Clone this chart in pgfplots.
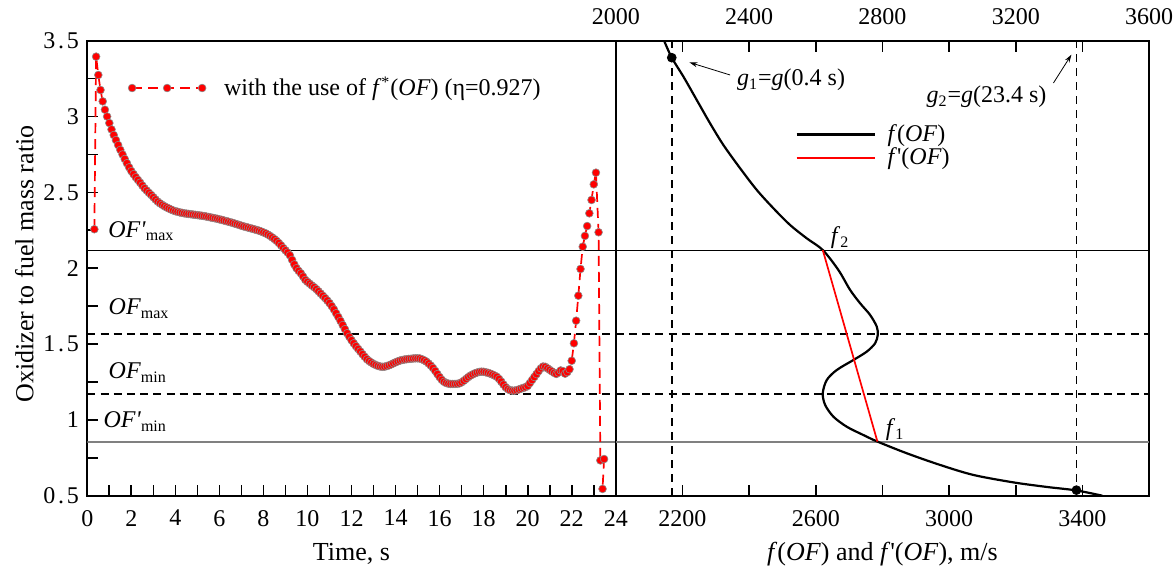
\documentclass[border=0pt]{standalone}
\usepackage{fontspec}
\setmainfont{Liberation Serif}
\usepackage{pgfplots}
\pgfplotsset{compat=1.18}
\usetikzlibrary{arrows.meta}

\newcommand{\dt}{\kern1.4pt.\kern1.4pt}
\newcommand{\pr}{\textquotesingle}
\begin{document}
\fontsize{12}{14}\selectfont
\begin{tikzpicture}
\path[use as bounding box] (-43.65pt,-35.65pt) rectangle (544.3pt,247.85pt);
\pgfplotsset{
 common/.style={scale only axis, height=227.5pt, ymin=0.5, ymax=3.5,
   /pgf/number format/assume math mode=true,
   /pgf/number format/1000 sep={},
   scaled x ticks=false,
   xticklabel={\pgfmathprintnumber[assume math mode=true,1000 sep={}]{\tick}},
   axis line style={line width=0.85pt},
   tick style={line width=0.85pt, black},
   major tick length=5.5pt, minor tick length=5.5pt,
   tick align=inside,
   label style={font=\fontsize{13}{15}\selectfont},
   tick label style={font=\fontsize{12}{14}\selectfont},
 },
 hsolid/.style={forget plot, black, line width=0.5pt},
 hgray/.style={forget plot, black!50, line width=0.7pt},
 hdash/.style={forget plot, black, line width=0.65pt, dash pattern=on 4pt off 2.6pt},
 vdash/.style={forget plot, black, line width=0.75pt, dash pattern=on 4pt off 3pt},
}
% ---------------- left panel ----------------
\begin{axis}[common, at={(0pt,0pt)}, anchor=south west, width=264.2pt,
  xmin=0, xmax=24,
  xtick={0,2,...,24}, minor xtick={1,3,...,23},
  ytick={0.5,1,1.5,2,2.5,3,3.5}, minor ytick={0.75,1.25,1.75,2.25,2.75,3.25},
  yticklabels={0\dt5,1,1\dt5,2,2\dt5,3,3\dt5},
  xtick pos=bottom, ytick pos=left,
  xticklabel style={yshift=-3pt},
  xlabel={Time, s}, ylabel={Oxidizer to fuel mass ratio},
  xlabel style={at={(axis description cs:0.5,-0.1429)}, anchor=base},
  ylabel style={at={(axis description cs:-0.102,0.509)}, anchor=base},
  legend style={at={(axis cs:1.84,3.188)}, anchor=west, draw=none, fill=none,
    inner sep=0pt, nodes={inner sep=0pt}, column sep=9pt,
    font=\fontsize{12}{14}\selectfont},
  legend image code/.code={\draw[mark repeat=1,#1] plot coordinates {(0pt,0pt) (17.5pt,0pt) (35pt,0pt)};},
]
\addplot[hsolid] coordinates {(0,2.12) (24,2.12)};
\addplot[hdash] coordinates {(0,1.567) (24,1.567)};
\addplot[hdash] coordinates {(0,1.171) (24,1.171)};
\addplot[hgray] coordinates {(0,0.854) (24,0.854)};
\addplot[red, line width=0.85pt, dash pattern=on 5pt off 3pt, mark=*, mark size=1.95pt,
  mark options={solid, fill=red, draw=black!45, line width=0.3pt}] coordinates {
(0.32,2.257) (0.4,3.395) (0.5,3.274) (0.6,3.175) (0.7,3.100) (0.8,3.045) (0.9,3.000)
(1.0,2.957) (1.1,2.915) (1.2,2.878) (1.3,2.845) (1.4,2.812) (1.5,2.780) (1.6,2.750)
(1.7,2.720) (1.8,2.692) (1.9,2.665) (2.0,2.640) (2.1,2.620) (2.2,2.600) (2.3,2.582)
(2.4,2.564) (2.5,2.545) (2.6,2.527) (2.7,2.512) (2.8,2.497) (2.9,2.483) (3.0,2.468)
(3.1,2.453) (3.2,2.439) (3.3,2.428) (3.4,2.418) (3.5,2.409) (3.6,2.401) (3.7,2.394)
(3.8,2.387) (3.9,2.381) (4.0,2.376) (4.1,2.372) (4.2,2.368) (4.3,2.365) (4.4,2.362)
(4.5,2.360) (4.6,2.358) (4.7,2.356) (4.8,2.354) (4.9,2.352) (5.0,2.350) (5.1,2.348)
(5.2,2.346) (5.3,2.344) (5.4,2.341) (5.5,2.338) (5.6,2.335) (5.7,2.332) (5.8,2.329)
(5.9,2.326) (6.0,2.322) (6.1,2.319) (6.2,2.315) (6.3,2.311) (6.4,2.307) (6.5,2.303)
(6.6,2.299) (6.7,2.294) (6.8,2.290) (6.9,2.285) (7.0,2.280) (7.1,2.276) (7.2,2.272)
(7.3,2.268) (7.4,2.264) (7.5,2.260) (7.6,2.256) (7.7,2.252) (7.8,2.247) (7.9,2.242)
(8.0,2.236) (8.1,2.230) (8.2,2.222) (8.3,2.213) (8.4,2.203) (8.5,2.192) (8.6,2.180)
(8.7,2.166) (8.8,2.150) (8.9,2.133) (9.0,2.118) (9.1,2.103) (9.2,2.085) (9.3,2.055)
(9.4,2.025) (9.5,2.000) (9.6,1.982) (9.7,1.966) (9.8,1.945) (9.9,1.923) (10.0,1.910)
(10.1,1.898) (10.2,1.886) (10.3,1.875) (10.4,1.862) (10.5,1.848) (10.6,1.833) (10.7,1.818)
(10.8,1.803) (10.9,1.787) (11.0,1.770) (11.1,1.750) (11.2,1.728) (11.3,1.703) (11.4,1.678)
(11.5,1.652) (11.6,1.625) (11.7,1.598) (11.8,1.571) (11.9,1.548) (12.0,1.525) (12.1,1.505)
(12.2,1.486) (12.3,1.468) (12.4,1.451) (12.5,1.433) (12.6,1.416) (12.7,1.400) (12.8,1.388)
(12.9,1.378) (13.0,1.369) (13.1,1.362) (13.2,1.356) (13.3,1.352) (13.4,1.350) (13.5,1.351)
(13.6,1.355) (13.7,1.360) (13.8,1.366) (13.9,1.373) (14.0,1.380) (14.1,1.386) (14.2,1.391)
(14.3,1.395) (14.4,1.398) (14.5,1.400) (14.6,1.402) (14.7,1.403) (14.8,1.405) (14.9,1.406)
(15.0,1.406) (15.1,1.405) (15.2,1.400) (15.3,1.393) (15.4,1.384) (15.5,1.372) (15.6,1.358)
(15.7,1.342) (15.8,1.323) (15.9,1.302) (16.0,1.282) (16.1,1.264) (16.2,1.251) (16.3,1.243)
(16.4,1.239) (16.5,1.237) (16.6,1.237) (16.7,1.237) (16.8,1.238) (16.9,1.241) (17.0,1.248)
(17.1,1.258) (17.2,1.270) (17.3,1.282) (17.4,1.292) (17.5,1.300) (17.6,1.307) (17.7,1.312)
(17.8,1.316) (17.9,1.318) (18.0,1.317) (18.1,1.314) (18.2,1.310) (18.3,1.305) (18.4,1.299)
(18.5,1.292) (18.6,1.284) (18.7,1.270) (18.8,1.252) (18.9,1.233) (19.0,1.215) (19.1,1.203)
(19.2,1.196) (19.3,1.193) (19.4,1.193) (19.5,1.196) (19.6,1.201) (19.7,1.206) (19.8,1.211)
(19.9,1.216) (20.0,1.224) (20.1,1.243) (20.2,1.263) (20.3,1.283) (20.4,1.302) (20.5,1.322)
(20.6,1.340) (20.7,1.352) (20.8,1.350) (20.9,1.340) (21.0,1.330) (21.1,1.320) (21.2,1.310)
(21.3,1.303) (21.4,1.312) (21.5,1.326) (21.6,1.322) (21.7,1.305) (21.8,1.315) (21.9,1.334)
(22.0,1.390) (22.1,1.505) (22.2,1.654) (22.3,1.819) (22.4,1.995) (22.5,2.142) (22.6,2.213)
(22.7,2.278) (22.8,2.362) (22.9,2.450) (23.0,2.553) (23.1,2.630) (23.22,2.237)
(23.3,0.733) (23.47,0.742) (23.4,0.545)
};
\addlegendentry{with the use of \textit{f}\textsuperscript{*}(\textit{OF}) (η=0.927)}
\node[anchor=base west, inner sep=0pt] at (axis cs:0.94,2.205) {\textit{OF\pr}\textsubscript{max}};
\node[anchor=base west, inner sep=0pt] at (axis cs:0.955,1.692) {\textit{OF}\textsubscript{max}};
\node[anchor=base west, inner sep=0pt] at (axis cs:0.955,1.27) {\textit{OF}\textsubscript{min}};
\node[anchor=base west, inner sep=0pt] at (axis cs:0.72,0.949) {\textit{OF\pr}\textsubscript{min}};
\end{axis}
% ---------------- right panel ----------------
\begin{axis}[common, at={(264.2pt,0pt)}, anchor=south west, width=266.65pt,
  xmin=2000, xmax=3600,
  xtick={2200,2600,3000,3400}, minor xtick={2400,2800,3200},
  xtick pos=bottom, ytick=\empty,
  xticklabel style={yshift=-3pt},
  xlabel={\textit{f}(\textit{OF}) and \textit{f}\pr(\textit{OF}), m/s},
  xlabel style={at={(axis description cs:0.5,-0.1429)}, anchor=base},
  legend style={at={(axis cs:2538,2.8035)}, anchor=west, draw=none, fill=none,
    inner sep=0pt, nodes={inner sep=0pt}, column sep=6pt, row sep=1.5pt,
    font=\fontsize{12}{14}\selectfont},
  legend cell align=left,
  legend image code/.code={\draw[#1] (0pt,0pt) -- (39pt,0pt);},
]
\addplot[hsolid] coordinates {(2000,2.12) (3600,2.12)};
\addplot[hdash] coordinates {(2000,1.567) (3600,1.567)};
\addplot[hdash] coordinates {(2000,1.171) (3600,1.171)};
\addplot[hgray] coordinates {(2000,0.854) (3600,0.854)};
\addplot[vdash] coordinates {(2168,0.5) (2168,3.5)};
\addplot[vdash] coordinates {(3382,0.5) (3382,3.5)};
\addplot[smooth, black, line width=1.1pt] coordinates {
(2145,3.50) (2168,3.388) (2203,3.263) (2243,3.109) (2283,2.955) (2323,2.812)
(2373,2.659) (2423,2.516) (2473,2.395) (2523,2.285) (2573,2.197) (2621,2.120)
(2668,1.988) (2703,1.857) (2733,1.769) (2763,1.692) (2783,1.615) (2786,1.560)
(2778,1.505) (2753,1.450) (2713,1.395) (2663,1.329) (2633,1.263) (2621,1.176)
(2628,1.099) (2653,1.021) (2693,0.955) (2743,0.900) (2785,0.857) (2873,0.780)
(2973,0.703) (3073,0.637) (3193,0.588) (3293,0.558) (3382,0.535) (3460,0.500)
};
\addlegendentry{\textit{f}(\textit{OF})}
\addplot[red, line width=0.85pt] coordinates {(2621,2.12) (2785,0.857)};
\addlegendentry{\textit{f}\pr(\textit{OF})}
\addplot[forget plot, only marks, mark=*, mark size=2.2pt, black] coordinates {(2168,3.388) (3382,0.537)};
\node at (axis cs:2673,2.199) {\textit{f}\textsubscript{2}};
\node at (axis cs:2838,0.934) {\textit{f}\textsubscript{1}};
\node[anchor=west, inner sep=0pt] at (axis cs:2363,3.24) {\textit{g}\textsubscript{1}=\textit{g}(0.4 s)};
\node at (axis cs:3112,3.13) {\textit{g}\textsubscript{2}=\textit{g}(23.4 s)};
\draw[-{Stealth[length=4pt,width=2.5pt]}, line width=0.4pt] (axis cs:2343,3.274) -- (axis cs:2221,3.357);
\draw[-{Stealth[length=4pt,width=2.5pt]}, line width=0.4pt] (axis cs:3313,3.221) -- (axis cs:3367,3.408);
\end{axis}
% top axis of right panel
\begin{axis}[common, at={(264.2pt,0pt)}, anchor=south west, width=266.65pt,
  xmin=2000, xmax=3600,
  axis x line*=top, axis y line=none,
  xtick={2000,2400,2800,3200,3600}, minor xtick={2200,2600,3000,3400},
  ytick=\empty,
  xticklabel style={yshift=4pt},
]
\addplot[draw=none, forget plot] coordinates {(2000,1) (3600,1)};
\end{axis}
\end{tikzpicture}
\end{document}
